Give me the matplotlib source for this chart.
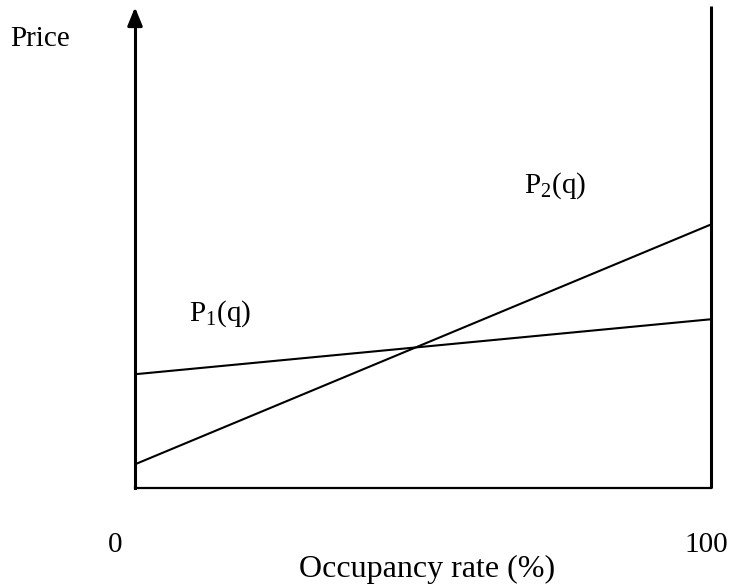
import matplotlib
matplotlib.use('Agg')
import matplotlib.pyplot as plt

plt.rcParams['font.family'] = ['Liberation Serif', 'DejaVu Serif']
plt.rcParams['mathtext.fontset'] = 'custom'
plt.rcParams['mathtext.rm'] = 'Liberation Serif'
plt.rcParams['mathtext.it'] = 'Liberation Serif:italic'

# Occupancy rate (%) at the two ends of each price line
occupancy = [0, 100]
p1 = [24.0, 35.6]   # P1(q): flat line
p2 = [5.0, 55.6]    # P2(q): steep line
y_top = 100

fig = plt.figure(figsize=(7.33, 5.85), dpi=100)
ax = fig.add_axes([135 / 733, 97 / 585, (711 - 135) / 733, (488 - 14) / 585])

ax.plot(occupancy, p1, color='black', lw=1.5, solid_capstyle='butt')
ax.plot(occupancy, p2, color='black', lw=1.5, solid_capstyle='butt')

# right-hand limit at 100 %
ax.plot([100, 100], [0, y_top + 1.6], color='black', lw=2.2,
        solid_capstyle='butt', clip_on=False)

ax.set_xlim(0, 100)
ax.set_ylim(0, y_top)
for side in ['top', 'right']:
    ax.spines[side].set_visible(False)
ax.spines['left'].set_linewidth(2.2)
ax.spines['bottom'].set_linewidth(1.6)
ax.set_xticks([])
ax.set_yticks([])

# arrow head on the price axis
ax.annotate('', xy=(0, y_top + 2), xytext=(0, y_top - 2),
            arrowprops=dict(arrowstyle='-|>,head_length=1.1,head_width=0.45',
                            color='black', lw=2.2),
            annotation_clip=False)

fs = 21
fig.text(10 / 733, 1 - 46 / 585, 'Price', fontsize=fs, va='baseline', ha='left')
fig.text(115 / 733, 1 - 552 / 585, '0', fontsize=fs, va='baseline', ha='center')
fig.text(706 / 733, 1 - 552 / 585, '100', fontsize=fs, va='baseline', ha='center')
fig.text(427 / 733, 1 - 577 / 585, 'Occupancy rate (%)', fontsize=23, va='baseline', ha='center')
fig.text(555 / 733, 1 - 193 / 585, r'P$_\mathrm{2}$(q)', fontsize=fs, va='baseline', ha='center')
fig.text(220 / 733, 1 - 321 / 585, r'P$_\mathrm{1}$(q)', fontsize=fs, va='baseline', ha='center')

fig.savefig('out.png', dpi=100)
